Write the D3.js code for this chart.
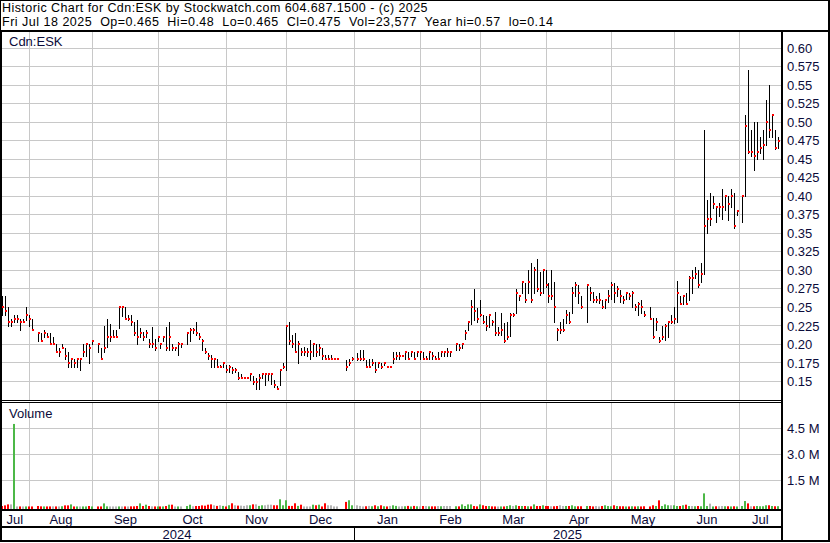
<!DOCTYPE html>
<html><head><meta charset="utf-8">
<script src="https://cdn.jsdelivr.net/npm/d3@7"></script>
<style>
html,body{margin:0;padding:0;background:#fff;}
svg{display:block;font-family:"Liberation Sans",Arial,sans-serif;}
</style></head><body>
<svg id="c" width="830" height="543"></svg>
<script>
const titleLine1 = "Historic Chart for Cdn:ESK by Stockwatch.com 604.687.1500 - (c) 2025";
const titleLine2 = "Fri Jul 18 2025  Op=0.465  Hi=0.48  Lo=0.465  Cl=0.475  Vol=23,577  Year hi=0.57  lo=0.14";
const symbol = "Cdn:ESK";
const volumeTitle = "Volume";

// one slot per weekday, Jul 19 2024 .. Jul 18 2025 (null = no trading)
const close = [
.25,.245,.23,.23,.235,.235,.23,.23,.24,.235,
.22,null,.215,.205,.215,.21,.2,.2,.19,.19,
.195,.185,.175,.18,.175,.18,.18,.19,.2,.195,
.205,null,.2,.18,.195,.21,.21,.21,.21,.25,
.25,.235,.235,.23,.215,.21,.215,.21,.215,.2,
.2,.195,.21,.2,.21,.195,.21,.195,.195,.2,
.2,null,.215,.22,.22,.215,.21,.205,.19,.185,
.18,.18,.17,.17,.175,.165,.17,.165,.165,.155,
.155,.155,.155,.16,.15,.15,.155,.16,.16,.16,
.16,.145,.14,.165,.17,.225,.205,.2,.19,.2,
.19,.19,.19,.19,.2,.19,.195,.185,.18,.18,
.18,.18,.18,null,null,.17,.175,.18,null,.18,
.18,.18,.17,.17,.175,.165,.175,.17,.175,.17,
.17,.18,.185,.185,.185,.19,.18,.19,.18,.19,
.19,.18,.18,.19,.185,.18,.18,.19,.19,.19,
.19,null,.2,.195,.2,.215,.23,.25,.245,.235,
.24,.23,.225,.24,.23,.215,.215,.22,.205,.21,
.24,.24,.27,.265,.285,.26,.285,.26,.3,.275,
.27,.3,.28,.265,.265,.25,.22,.22,.22,.24,
.23,.27,.28,.27,.25,null,.28,.27,.26,.26,
.26,.25,.26,.265,.28,.27,.275,.265,.26,.27,
.265,.27,.25,.255,.25,.24,null,.235,.21,.23,
.205,.21,.225,.23,.23,.235,.27,.255,.265,.255,
.29,.29,.295,.28,.295,.36,.37,.37,.39,.385,
.385,.385,.4,.39,.4,.36,.38,null,.4,.495,
.46,.46,.455,.46,.465,.47,.5,.49,.51,.465,
.475];

const high = [
.265,.265,.25,.235,.24,.24,.235,.235,.25,.24,
.235,null,.215,.215,.22,.215,.215,.21,.2,.195,
.2,.195,.19,.18,.18,.18,.18,.2,.2,.2,
.205,null,.2,.195,.225,.235,.228,.22,.22,.25,
.25,.25,.24,.24,.23,.233,.222,.217,.22,.208,
.224,.208,.21,.2,.21,.224,.23,.2,.197,.204,
.2,null,.215,.222,.222,.23,.215,.208,.195,.188,
.186,.18,.18,.172,.175,.172,.172,.17,.168,.163,
.16,.155,.155,.16,.157,.155,.16,.16,.16,.16,
.16,.152,.144,.166,.175,.225,.23,.213,.215,.205,
.195,.197,.195,.206,.2,.2,.2,.195,.186,.186,
.186,.18,.18,null,null,.179,.18,.183,null,.188,
.192,.192,.179,.18,.181,.177,.176,.175,.176,.17,
.17,.19,.19,.19,.185,.19,.19,.19,.19,.19,
.19,.19,.185,.19,.19,.185,.19,.19,.19,.195,
.19,null,.2,.2,.2,.22,.231,.26,.275,.249,
.26,.24,.238,.24,.233,.244,.224,.242,.229,.231,
.242,.242,.275,.267,.286,.283,.3,.31,.305,.315,
.298,.3,.3,.283,.3,.285,.222,.23,.235,.247,
.244,.278,.285,.28,.265,null,.28,.278,.271,.265,
.27,.26,.26,.274,.285,.283,.279,.274,.265,.271,
.27,.272,.254,.258,.26,.245,null,.25,.236,.236,
.21,.225,.227,.23,.24,.25,.286,.265,.266,.27,
.292,.3,.305,.3,.31,.49,.395,.405,.4,.386,
.391,.41,.401,.4,.41,.405,.381,null,.4,.51,
.571,.49,.5,.5,.48,.49,.53,.55,.51,.49,
.48];

const low = [
.24,.24,.225,.225,.23,.23,.22,.23,.233,.225,
.22,null,.205,.205,.21,.21,.2,.2,.19,.185,
.195,.18,.17,.17,.17,.17,.165,.185,.185,.175,
.2,null,.19,.18,.19,.197,.205,.21,.21,.222,
.238,.235,.233,.226,.213,.2,.21,.206,.21,.197,
.197,.193,.205,.195,.205,.193,.193,.193,.193,.186,
.197,null,.2,.205,.215,.213,.208,.193,.188,.18,
.17,.17,.17,.17,.17,.163,.163,.161,.163,.154,
.155,.155,.155,.152,.146,.14,.14,.155,.145,.152,
.147,.143,.14,.145,.168,.166,.2,.197,.19,.175,
.186,.186,.184,.181,.184,.184,.186,.18,.18,.18,
.18,.18,.18,null,null,.166,.172,.179,null,.179,
.179,.179,.169,.169,.172,.163,.17,.168,.172,.17,
.17,.175,.18,.18,.185,.18,.18,.185,.18,.185,
.18,.18,.18,.18,.18,.18,.18,.185,.185,.185,
.185,null,.193,.193,.195,.208,.22,.228,.233,.231,
.238,.229,.22,.224,.226,.213,.213,.213,.204,.208,
.211,.238,.242,.26,.269,.258,.269,.258,.27,.272,
.267,.269,.278,.258,.262,.231,.206,.215,.218,.229,
.229,.242,.265,.256,.249,null,.231,.26,.258,.258,
.256,.249,.249,.258,.262,.258,.265,.258,.256,.262,
.262,.25,.247,.24,.242,.238,null,.234,.209,.22,
.204,.207,.206,.21,.229,.229,.231,.254,.255,.254,
.26,.27,.29,.278,.285,.295,.35,.362,.384,.365,
.373,.37,.382,.368,.386,.357,.375,null,.365,.4,
.458,.455,.435,.45,.458,.45,.47,.48,.48,.464,
.465];

// volume in thousands of shares
const volume = [
35,70,127,127,4750,10,10,10,10,10,
10,null,35,15,10,10,10,15,10,10,
20,70,70,127,10,10,10,10,10,35,
10,null,10,10,185,15,10,10,10,10,
10,10,10,15,15,35,185,35,110,35,
15,10,10,10,10,35,110,110,10,10,
10,null,35,110,20,35,35,70,52,110,
127,75,40,75,40,10,75,190,75,55,
55,40,75,75,130,130,40,75,75,110,
110,75,75,420,75,365,40,40,190,40,
110,10,10,10,110,75,110,10,190,75,
75,10,10,null,null,270,365,75,null,75,
40,10,20,40,20,75,20,75,20,10,
40,75,40,10,20,20,40,10,40,20,
15,35,35,15,15,15,35,20,35,35,
35,null,20,15,127,35,127,127,35,15,
127,75,35,35,15,10,10,10,10,35,
75,35,75,35,35,35,20,15,127,35,
35,75,35,35,20,20,35,75,35,35,
35,75,20,20,20,35,35,35,10,35,
10,35,75,35,20,75,35,20,20,10,
10,20,10,20,10,20,null,10,75,35,
360,35,127,75,75,75,35,35,75,110,
35,35,20,35,20,760,35,170,10,20,
20,35,20,20,10,20,10,null,35,320,
185,20,20,35,20,20,75,75,35,20,
24];

const monthLabels = ["Jul","Aug","Sep","Oct","Nov","Dec","Jan","Feb","Mar","Apr","May","Jun","Jul"];
const monthStartSlots = [9,30,52,75,95,118,140,160,182,204,225,247];
const yearLabels = ["2024","2025"];
const yearBreakSlot = 118;
const priceTicks = [0.15,0.175,0.20,0.225,0.25,0.275,0.30,0.325,0.35,0.375,0.40,0.425,0.45,0.475,0.50,0.525,0.55,0.575,0.60];
const volumeTicks = [1.5e6,3.0e6,4.5e6];

const svg = d3.select("#c");
const W = 830, H = 543;
const plotR = 781;
const priceTop = 32, priceBot = 400, volTop = 403, volBot = 509;
const gridCol = "#c8c8c8", labelCol = "#0b0b3a";
const upCol = "#4cb847", downCol = "#ff0000", flatCol = "#b4b4b4";

const x = d3.scaleLinear().domain([0, close.length - 1]).range([2.8, 778.8]);
const y = d3.scaleLinear().domain([0.15, 0.60]).range([381.5, 48.3]);
const yv = d3.scaleLinear().domain([0, 4.5e6]).range([506.6, 428.3]);

svg.append("rect").attr("width", W).attr("height", H).attr("fill", "#fff");

// grid
const g = svg.append("g");
priceTicks.forEach(t => {
  const yy = Math.floor(y(t)) + 0.5;
  g.append("line").attr("x1", 2).attr("x2", plotR).attr("y1", yy).attr("y2", yy)
    .attr("stroke", gridCol).attr("stroke-width", 1);
});
volumeTicks.forEach(t => {
  const yy = Math.floor(yv(t)) + 0.5;
  g.append("line").attr("x1", 2).attr("x2", plotR).attr("y1", yy).attr("y2", yy)
    .attr("stroke", gridCol).attr("stroke-width", 1);
});
const gridX = monthStartSlots.map(s => Math.floor(x(s)) + 0.5);
gridX.forEach(xx => {
  g.append("line").attr("x1", xx).attr("x2", xx).attr("y1", priceTop).attr("y2", priceBot)
    .attr("stroke", gridCol).attr("stroke-width", 1);
  g.append("line").attr("x1", xx).attr("x2", xx).attr("y1", volTop).attr("y2", volBot)
    .attr("stroke", gridCol).attr("stroke-width", 1);
});

// volume bars
const idx = d3.range(close.length).filter(i => close[i] !== null);
let prevClose = null;
const volColor = {};
idx.forEach(i => {
  const c = close[i];
  volColor[i] = prevClose === null ? downCol : (c > prevClose ? upCol : (c < prevClose ? downCol : flatCol));
  prevClose = c;
});
svg.append("g").selectAll("rect").data(idx.filter(i => volume[i] !== null)).join("rect")
  .attr("x", i => Math.floor(x(i)) - 1)
  .attr("width", 2)
  .attr("y", i => yv(volume[i] * 1000))
  .attr("height", i => volBot - yv(volume[i] * 1000))
  .attr("fill", i => volColor[i]);

// price bars
const pb = svg.append("g");
pb.selectAll("rect.hl").data(idx).join("rect").attr("class", "hl")
  .attr("x", i => Math.floor(x(i)))
  .attr("width", 1)
  .attr("y", i => Math.round(y(Math.max(high[i], close[i]))))
  .attr("height", i => Math.max(1, Math.round(y(Math.min(low[i], close[i]))) - Math.round(y(Math.max(high[i], close[i]))) + 1))
  .attr("fill", "#000");
pb.selectAll("rect.cl").data(idx).join("rect").attr("class", "cl")
  .attr("x", i => Math.floor(x(i)))
  .attr("width", 2)
  .attr("y", i => Math.round(y(close[i])) - 1)
  .attr("height", 2)
  .attr("fill", "#ff0000");

// frame
const blk = (x0, y0, w, h) => svg.append("rect").attr("x", x0).attr("y", y0).attr("width", w).attr("height", h).attr("fill", "#000");
blk(0, 0, W, 1);
blk(0, 0, 1, 30);
blk(828, 0, 2, 542);
blk(0, 30, W, 2);
blk(0, 30, 2, 512);
blk(781, 30, 2, 512);
blk(0, 400, 783, 1);
blk(0, 402, 783, 1);
blk(0, 509, 783, 2);
blk(0, 526, 783, 2);
blk(0, 540, W, 2);
blk(Math.floor(x(yearBreakSlot)), 527, 1, 14);

// texts
svg.append("text").attr("x", 2).attr("y", 12).attr("font-size", "12.5px")
  .attr("letter-spacing", "0.43px").attr("fill", "#000").text(titleLine1);
svg.append("text").attr("x", 2).attr("y", 26).attr("font-size", "12.5px")
  .attr("letter-spacing", "0.5px").attr("fill", "#000")
  .style("white-space", "pre").text(titleLine2);
svg.append("text").attr("x", 9).attr("y", 45.5).attr("font-size", "13px").attr("fill", labelCol).text(symbol);
svg.append("text").attr("x", 9).attr("y", 418).attr("font-size", "13px").attr("fill", labelCol).text(volumeTitle);

const fmtP = t => { let s = d3.format(".3f")(t); if (s.endsWith("0")) s = s.slice(0, -1); return s; };
svg.append("g").selectAll("text").data(priceTicks).join("text")
  .attr("x", 787).attr("y", d => y(d)).attr("dy", "0.35em")
  .attr("font-size", "13px").attr("fill", labelCol).text(fmtP);
svg.append("g").selectAll("text").data(volumeTicks).join("text")
  .attr("x", 787).attr("y", d => yv(d)).attr("dy", "0.35em")
  .attr("font-size", "13px").attr("fill", labelCol).text(d => (d / 1e6).toFixed(1) + " M");

const bounds = [0, ...gridX, plotR];
svg.append("g").selectAll("text").data(monthLabels).join("text")
  .attr("x", (d, i) => (bounds[i] + bounds[i + 1]) / 2).attr("y", 523.5)
  .attr("text-anchor", "middle").attr("font-size", "13px").attr("fill", labelCol).text(d => d);
const yb = [0, Math.floor(x(yearBreakSlot)), plotR];
svg.append("g").selectAll("text").data(yearLabels).join("text")
  .attr("x", (d, i) => (yb[i] + yb[i + 1]) / 2).attr("y", 538.5)
  .attr("text-anchor", "middle").attr("font-size", "13px").attr("fill", labelCol).text(d => d);
</script>
</body></html>
